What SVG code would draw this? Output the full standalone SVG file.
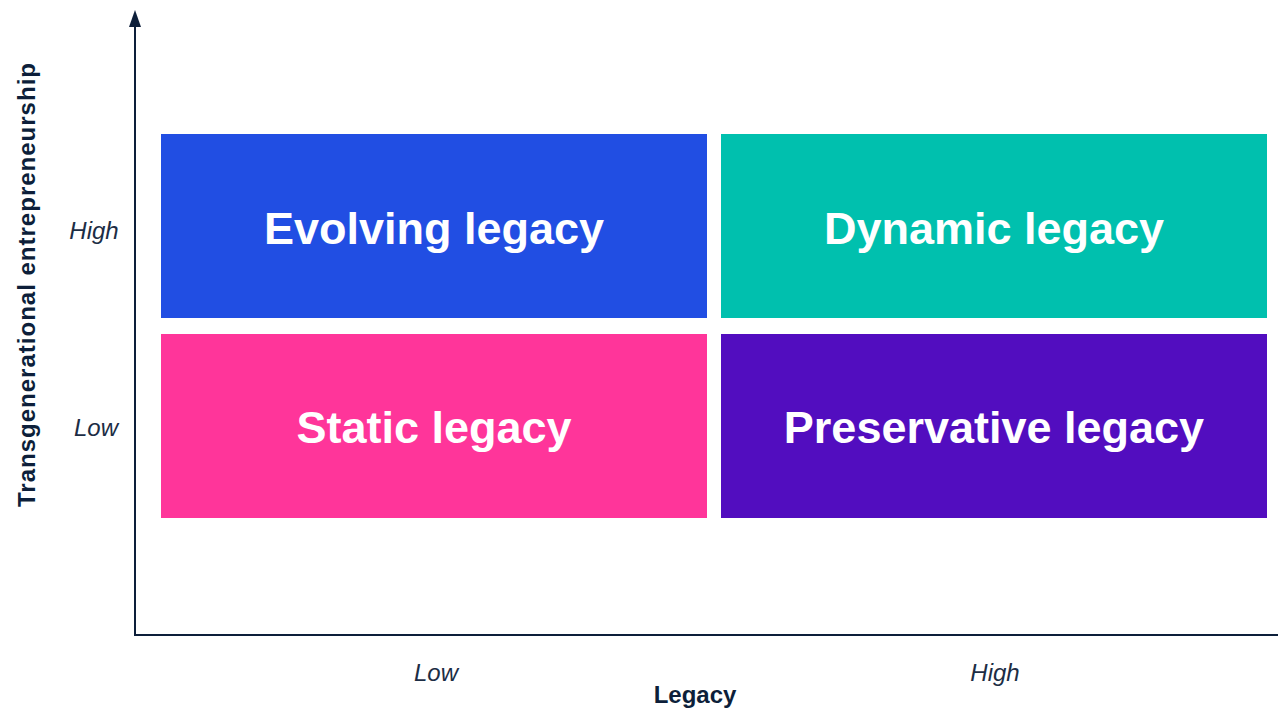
<svg xmlns="http://www.w3.org/2000/svg" width="1278" height="709" viewBox="0 0 1278 709">
<style>
.q{font-family:"Liberation Sans",Arial,sans-serif;font-weight:bold;font-size:45px;fill:#fff;text-anchor:middle}
.tick{font-family:"Liberation Sans",Arial,sans-serif;font-style:italic;font-size:24px;fill:#1c2d45;text-anchor:middle}
.title{font-family:"Liberation Sans",Arial,sans-serif;font-weight:bold;font-size:24px;fill:#0d1f3a;text-anchor:middle}
.axis{stroke:#0d1f3a;stroke-width:2;fill:none}
</style>
<rect width="1278" height="709" fill="#fff"/>
<g id="axes">
<line class="axis" x1="135" y1="22" x2="135" y2="635"/>
<line class="axis" x1="134" y1="635" x2="1278" y2="635"/>
<polygon points="135,10 141,27 129,27" fill="#0d1f3a"/>
</g>
<g id="evolving"><rect x="161" y="134" width="546" height="184" fill="#214ee3"/><text class="q" x="434" y="244">Evolving legacy</text></g>
<g id="dynamic"><rect x="721" y="134" width="546" height="184" fill="#00c0ae"/><text class="q" x="994" y="244">Dynamic legacy</text></g>
<g id="static"><rect x="161" y="334" width="546" height="184" fill="#ff359a"/><text class="q" x="434" y="443">Static legacy</text></g>
<g id="preservative"><rect x="721" y="334" width="546" height="184" fill="#520dbf"/><text class="q" x="994" y="443">Preservative legacy</text></g>
<g id="labels">
<text class="tick" x="94" y="239">High</text>
<text class="tick" x="96" y="436">Low</text>
<text class="tick" x="436" y="681">Low</text>
<text class="tick" x="995" y="681">High</text>
<text class="title" x="695" y="703">Legacy</text>
<text class="title" transform="translate(35,285) rotate(-90)" x="0" y="0" textLength="444" lengthAdjust="spacing">Transgenerational entrepreneurship</text>
</g>
</svg>
